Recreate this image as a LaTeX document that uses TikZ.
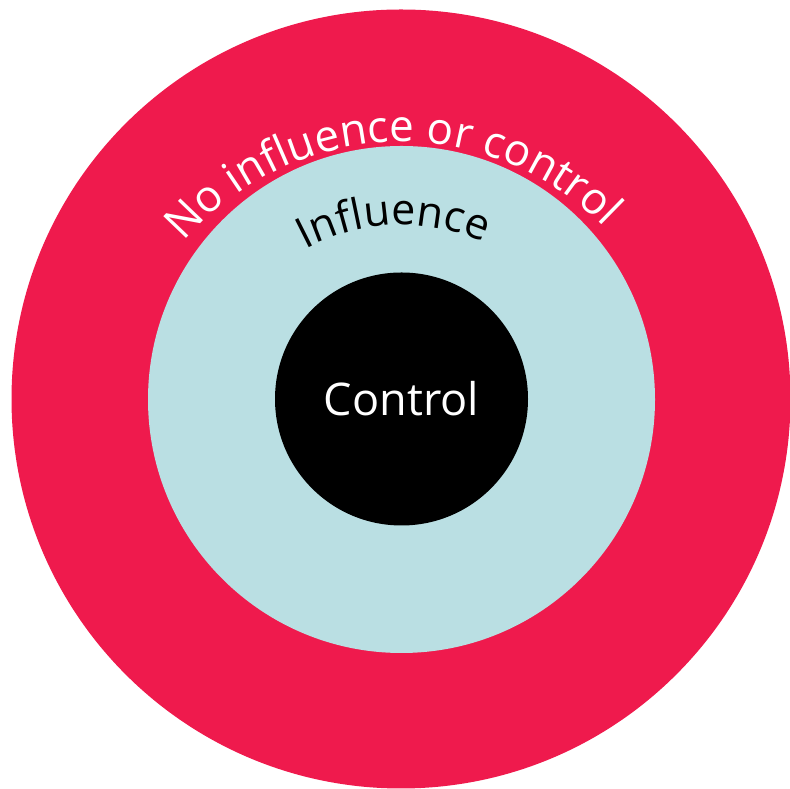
\documentclass[tikz,border=0pt]{standalone}
\usepackage{fontspec}
\setmainfont{Open Sans}
\usetikzlibrary{decorations.text}
\definecolor{ringred}{RGB}{239,26,77}
\definecolor{ringblue}{RGB}{186,223,227}
\begin{document}
\begin{tikzpicture}[x=1pt,y=1pt,
  disc/.style={circle, inner sep=0pt, draw=none}]
\useasboundingbox (0,0) rectangle (790,789);
\node[disc, fill=ringred, minimum size=779pt] (outer) at (401,390) {};
\node[disc, fill=ringblue, minimum size=507pt] (mid) at (401.5,389.5) {};
\node[disc, fill=black, minimum size=253pt, text=white,
      font=\fontsize{45}{52}\selectfont] (core) at (401.5,390) {Control};
\coordinate (arcc) at (401,362);
\path[decorate, decoration={text along path, text align=center, text color=white,
      text={|\fontsize{44}{52}\selectfont|No influence or control}}]
  (arcc) ++(142:285) arc[start angle=142, end angle=42, radius=285];
\path[decorate, decoration={text along path, text align=center, text color=black,
      text={|\fontsize{43}{50}\selectfont|Influence}}]
  (arcc) ++(130:202) arc[start angle=130, end angle=54, radius=202];
\end{tikzpicture}
\end{document}
